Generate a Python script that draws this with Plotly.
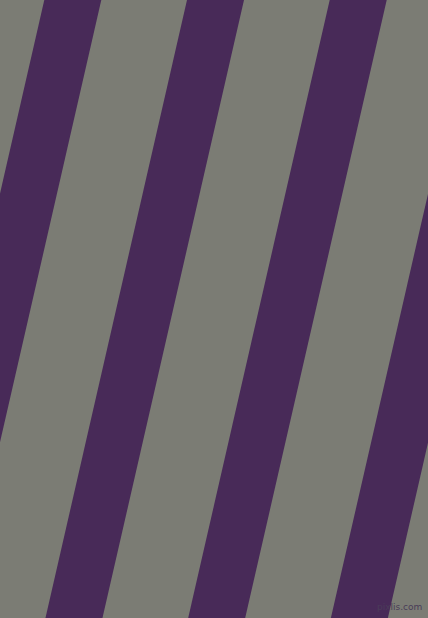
import plotly.graph_objects as go

W, H = 428, 618

# stripe data (pixel space, measured at top edge y=0)
stripe_left_top = [-98.4, 44.3, 187.0, 329.7, 472.4]
stripe_width = 57.0
stripe_slope = 0.229  # x shift per pixel going down
gray = '#7b7c74'
purple = '#482a58'

fig = go.Figure()

for x0 in stripe_left_top:
    x1 = x0 + stripe_width
    shift = stripe_slope * H
    fig.add_trace(go.Scatter(
        x=[x0, x1, x1 - shift, x0 - shift, x0],
        y=[0, 0, H, H, 0],
        mode='lines',
        fill='toself',
        fillcolor=purple,
        line=dict(width=0, color=purple),
        hoverinfo='skip',
        showlegend=False,
    ))

fig.add_annotation(
    x=424, y=607, xref='x', yref='y',
    text='pixlis.com', showarrow=False,
    xanchor='right', yanchor='middle',
    font=dict(family='DejaVu Sans', size=9, color='#4a3c58'),
)

fig.update_layout(
    width=W, height=H,
    margin=dict(l=0, r=0, t=0, b=0),
    paper_bgcolor=gray,
    plot_bgcolor=gray,
    showlegend=False,
)
fig.update_xaxes(range=[0, W], visible=False, fixedrange=True)
fig.update_yaxes(range=[H, 0], visible=False, fixedrange=True)

# 브라우저 기본 body 여백 제거
fig.write_html('out.html', config={'displayModeBar': False},
               post_script="document.body.style.margin='0';document.body.style.overflow='hidden';")
